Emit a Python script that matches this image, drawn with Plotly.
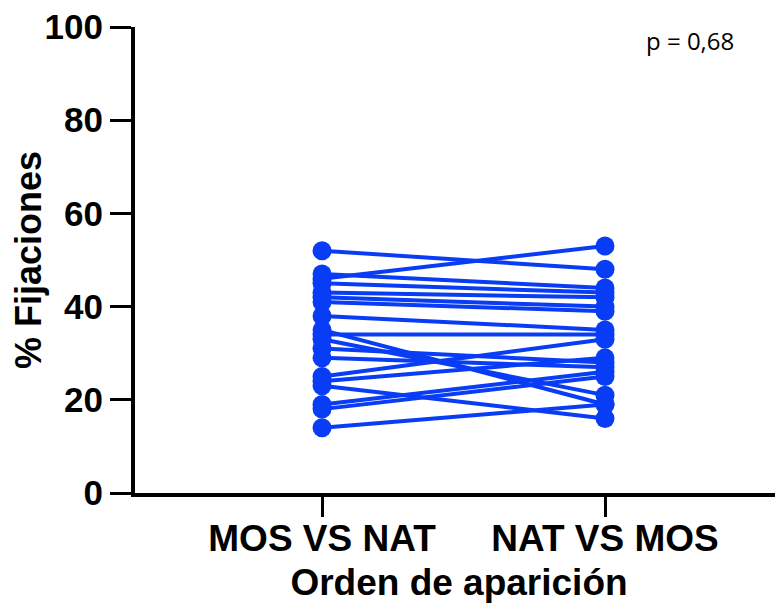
import plotly.graph_objects as go

categories = ["MOS VS NAT", "NAT VS MOS"]
mos_vs_nat = [52, 46, 47, 45, 43, 42, 41, 38, 34, 35, 33, 31, 29, 25, 24, 23, 19, 18, 14]
nat_vs_mos = [48, 53, 44, 43, 42, 40, 39, 35, 34, 19, 21, 28, 27, 33, 29, 16, 26, 25, 19]
y_ticks = [0, 20, 40, 60, 80, 100]
p_text = "p = 0,68"

xs, ys = [], []
for a, b in zip(mos_vs_nat, nat_vs_mos):
    xs += [0, 1, None]
    ys += [a, b, None]

blue = "rgb(8,60,245)"
fig = go.Figure()
fig.add_trace(go.Scatter(
    x=xs, y=ys, mode="lines+markers",
    line=dict(color=blue, width=4),
    marker=dict(color=blue, size=19),
    showlegend=False, connectgaps=False,
))

fig.update_layout(
    width=775, height=601,
    margin=dict(l=127, r=0, t=19, b=116, autoexpand=False),
    plot_bgcolor="white", paper_bgcolor="white",
    font=dict(family="Liberation Sans, Arial", color="black"),
    xaxis=dict(
        range=[-0.661, 1.629], tickvals=[0, 1], ticktext=categories,
        showline=True, linecolor="black", linewidth=4,
        ticks="outside", ticklen=20, tickwidth=3, tickcolor="black",
        showgrid=False, zeroline=False, automargin=False,
        ticklabelstandoff=-10, ticklabeloverflow="allow",
        tickfont=dict(size=37, weight="bold"),
        title=dict(text="Orden de aparición", font=dict(size=37, weight="bold"), standoff=12),
    ),
    yaxis=dict(
        range=[0, 100], tickvals=y_ticks,
        showline=True, linecolor="black", linewidth=4,
        ticks="outside", ticklen=21, tickwidth=3, tickcolor="black",
        showgrid=False, zeroline=False, automargin=False,
        ticklabeloverflow="allow",
        tickfont=dict(size=35, weight="bold"),
        title=dict(text="% Fijaciones", font=dict(size=36, weight="bold"), standoff=10),
    ),
    annotations=[dict(
        text=p_text, xref="paper", yref="paper", x=0.856, y=0.970,
        xanchor="center", yanchor="middle", showarrow=False,
        font=dict(size=24, family="Open Sans, Liberation Sans, Arial"),
    )],
)

fig.write_html("out.html")
